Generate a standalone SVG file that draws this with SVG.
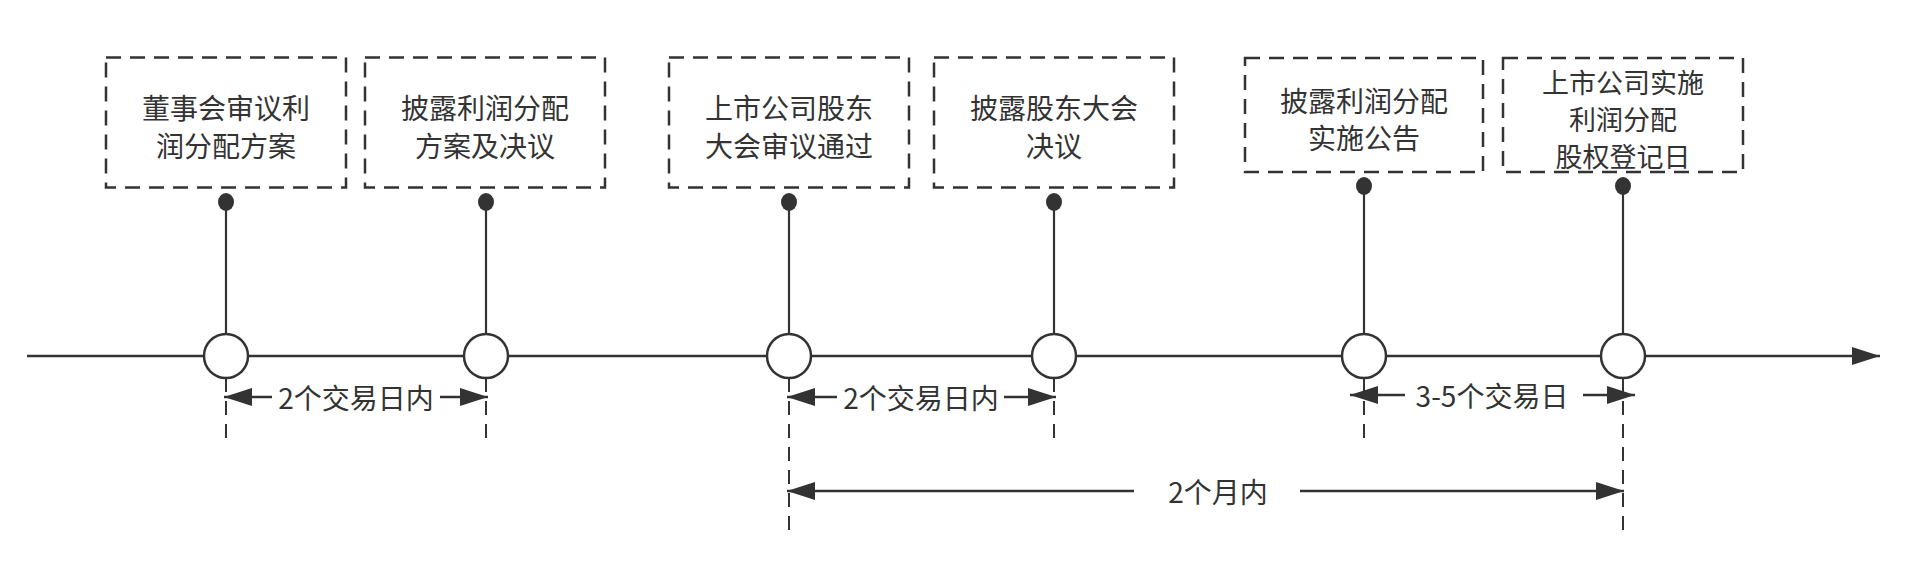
<svg xmlns="http://www.w3.org/2000/svg" width="1914" height="574" viewBox="0 0 1914 574">
<defs>
<style>
.box{fill:#fff;stroke:#333;stroke-width:2.5;stroke-dasharray:15 9}
.lbl{font-family:"Noto Sans CJK SC","Noto Sans",sans-serif;font-size:28px;fill:#333;text-anchor:middle;dominant-baseline:central}
.sm{font-size:27px}
.conn{stroke:#333;stroke-width:2.5;fill:none}
.stem{stroke:#333;stroke-width:2.2;fill:none;marker-start:url(#dot)}
.ext{stroke:#333;stroke-width:2;fill:none;stroke-dasharray:14 9}
.dim{stroke:#333;stroke-width:2.5;fill:none;marker-end:url(#arr)}
.node{fill:#fff;stroke:#333;stroke-width:2.5}
</style>
<marker id="dot" markerUnits="userSpaceOnUse" viewBox="-10 -10 20 20" refX="0" refY="0" markerWidth="20" markerHeight="20" orient="0">
<ellipse cx="0" cy="0" rx="8" ry="9" fill="#333"/>
</marker>
<marker id="arr" markerUnits="userSpaceOnUse" viewBox="0 0 28 18" refX="28" refY="9" markerWidth="28" markerHeight="18" orient="auto">
<path d="M0,0 L28,9 L0,18 Z" fill="#333"/>
</marker>
</defs>
<rect width="1914" height="574" fill="#fff"/>

<g id="connectors">
<line class="conn" x1="27" y1="356" x2="1880" y2="356" marker-end="url(#arr)"/>
<line class="stem" x1="226" y1="202" x2="226" y2="356"/>
<line class="stem" x1="486" y1="202" x2="486" y2="356"/>
<line class="stem" x1="789" y1="202" x2="789" y2="356"/>
<line class="stem" x1="1054" y1="202" x2="1054" y2="356"/>
<line class="stem" x1="1364" y1="186" x2="1364" y2="356"/>
<line class="stem" x1="1623" y1="186" x2="1623" y2="356"/>
<line class="ext" x1="226" y1="378" x2="226" y2="438"/>
<line class="ext" x1="486" y1="378" x2="486" y2="438"/>
<line class="ext" x1="789" y1="378" x2="789" y2="532"/>
<line class="ext" x1="1054" y1="378" x2="1054" y2="438"/>
<line class="ext" x1="1364" y1="378" x2="1364" y2="443"/>
<line class="ext" x1="1623" y1="378" x2="1623" y2="532"/>
<line class="dim" x1="272" y1="397" x2="224" y2="397"/>
<line class="dim" x1="440" y1="397" x2="488" y2="397"/>
<text class="lbl" x="356" y="397">2个交易日内</text>
<line class="dim" x1="837" y1="397" x2="787" y2="397"/>
<line class="dim" x1="1004" y1="397" x2="1056" y2="397"/>
<text class="lbl" x="921" y="397">2个交易日内</text>
<line class="dim" x1="1405" y1="395" x2="1350" y2="395"/>
<line class="dim" x1="1583" y1="395" x2="1635" y2="395"/>
<text class="lbl" x="1492" y="395">3-5个交易日</text>
<line class="dim" x1="1134" y1="491" x2="787" y2="491"/>
<line class="dim" x1="1300" y1="491" x2="1624" y2="491"/>
<text class="lbl" x="1218" y="491">2个月内</text>
</g>

<g id="box1"><rect class="box" x="106" y="57.5" width="240" height="130"/><text class="lbl" x="226" y="107">董事会审议利</text><text class="lbl" x="226" y="145">润分配方案</text></g>
<g id="box2"><rect class="box" x="365" y="57.5" width="240" height="130"/><text class="lbl" x="485" y="107">披露利润分配</text><text class="lbl" x="485" y="145">方案及决议</text></g>
<g id="box3"><rect class="box" x="669" y="57.5" width="240" height="130"/><text class="lbl" x="789" y="107">上市公司股东</text><text class="lbl" x="789" y="145">大会审议通过</text></g>
<g id="box4"><rect class="box" x="934" y="57.5" width="240" height="130"/><text class="lbl" x="1054" y="107">披露股东大会</text><text class="lbl" x="1054" y="145">决议</text></g>
<g id="box5"><rect class="box" x="1245" y="58" width="238" height="114"/><text class="lbl" x="1364" y="100">披露利润分配</text><text class="lbl" x="1364" y="137">实施公告</text></g>
<g id="box6"><rect class="box" x="1503" y="58" width="240" height="114"/><text class="lbl sm" x="1623" y="81">上市公司实施</text><text class="lbl sm" x="1623" y="118">利润分配</text><text class="lbl sm" x="1623" y="155">股权登记日</text></g>

<g id="node1"><circle class="node" cx="226" cy="356" r="22"/></g>
<g id="node2"><circle class="node" cx="486" cy="356" r="22"/></g>
<g id="node3"><circle class="node" cx="789" cy="356" r="22"/></g>
<g id="node4"><circle class="node" cx="1054" cy="356" r="22"/></g>
<g id="node5"><circle class="node" cx="1364" cy="356" r="22"/></g>
<g id="node6"><circle class="node" cx="1623" cy="356" r="22"/></g>
</svg>
